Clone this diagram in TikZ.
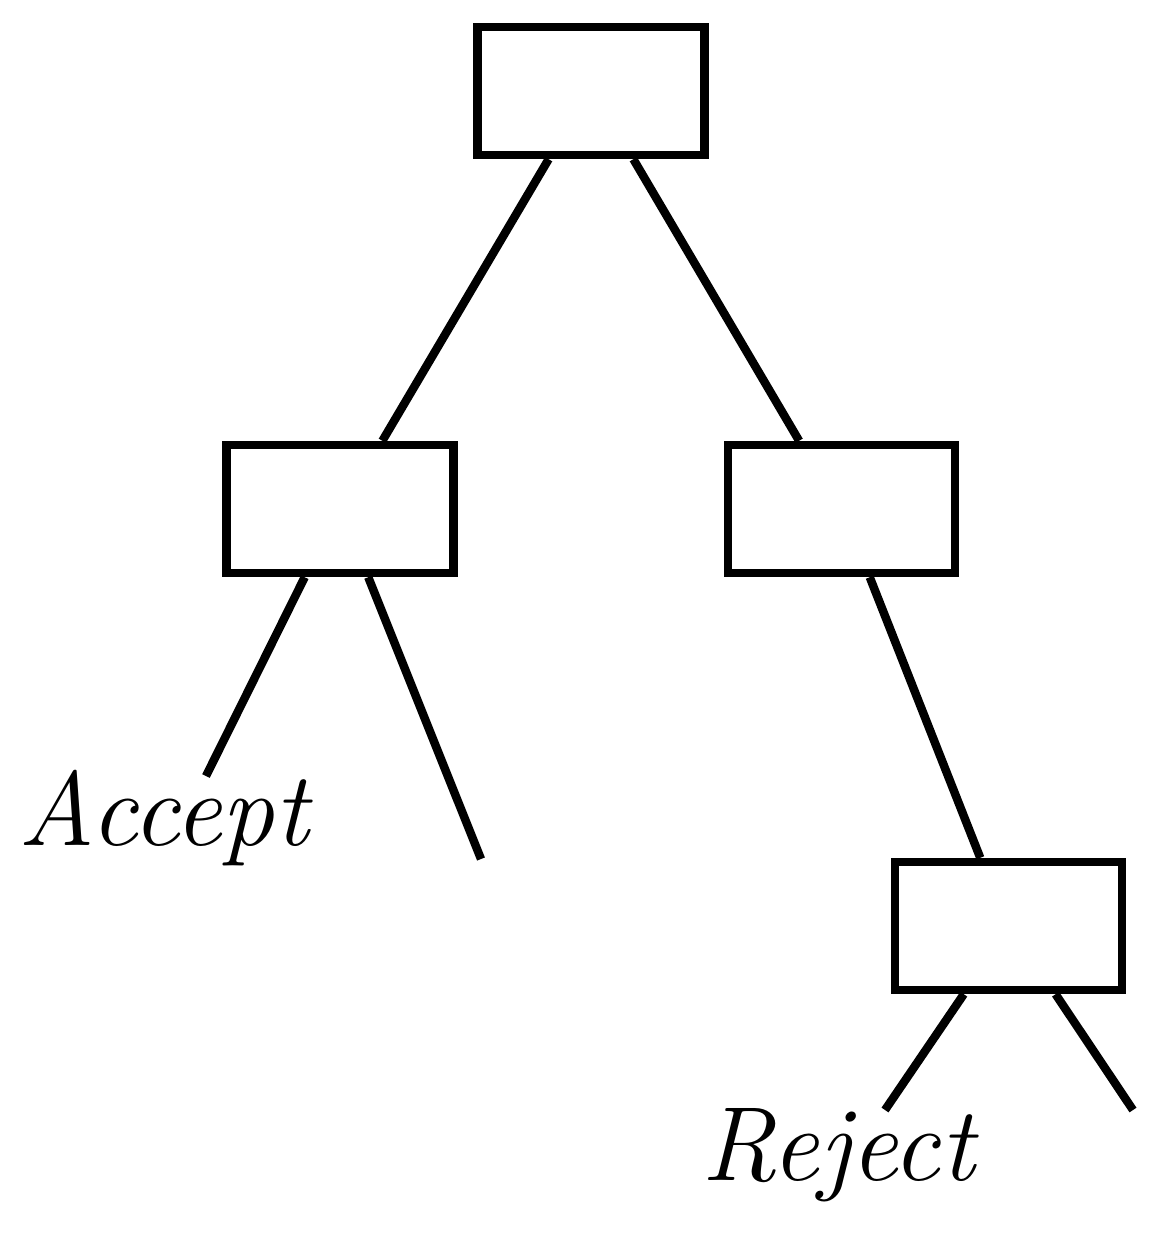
\documentclass[tikz,border=0pt]{standalone}
\usepackage{tikz}
\usetikzlibrary{calc}

\begin{document}
\begin{tikzpicture}[
    box/.style={rectangle, draw, line width=2.4pt, inner sep=0pt, minimum width=2.27cm, minimum height=1.28cm},
    edge/.style={line width=2.4pt},
    leaf/.style={anchor=base west, inner sep=0pt, font=\fontsize{30}{36}\selectfont\itshape}
]
            \useasboundingbox (0,0) rectangle (11.62,-12.38);

            % Nodes
            \node[box] (root) at (5.91, -0.91) {};
            \node[box] (left) at (3.40, -5.09) {};
            \node[box] (right) at (8.415, -5.09) {};
            \node[box] (low) at (10.085, -9.26) {};

            \node[leaf] (accept) at (0.18, -8.45) {Accept};
            \node[leaf] (reject) at (7.01, -11.80) {Reject};

            \coordinate (accend) at (2.06, -7.76);
            \coordinate (leftend) at (4.81, -8.59);
            \coordinate (rejend) at (8.85, -11.10);
            \coordinate (lowend) at (11.33, -11.10);

            % Edges
            \draw[edge] ($(root.south west)!0.32!(root.south east)$) -- ($(left.north west)!0.68!(left.north east)$);
            \draw[edge] ($(root.south west)!0.68!(root.south east)$) -- ($(right.north west)!0.32!(right.north east)$);
            \draw[edge] ($(left.south west)!0.35!(left.south east)$) -- (accend);
            \draw[edge] ($(left.south west)!0.62!(left.south east)$) -- (leftend);
            \draw[edge] ($(right.south west)!0.62!(right.south east)$) -- ($(low.north west)!0.38!(low.north east)$);
            \draw[edge] ($(low.south west)!0.31!(low.south east)$) -- (rejend);
            \draw[edge] ($(low.south west)!0.70!(low.south east)$) -- (lowend);

        \end{tikzpicture}
\end{document}
